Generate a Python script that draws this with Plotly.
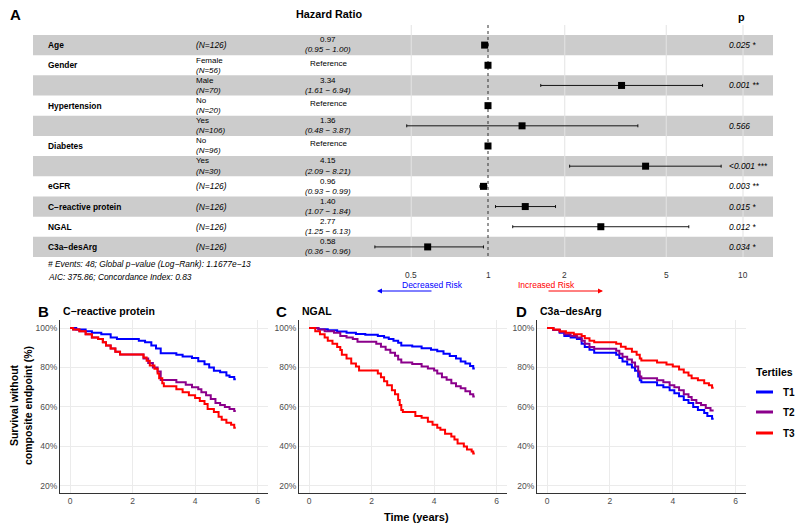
import math
import plotly.graph_objects as go

# ---------------- data: forest plot ----------------
var_labels = ["Age", "Gender", "", "Hypertension", "", "Diabetes", "", "eGFR",
              "C−reactive protein", "NGAL", "C3a−desArg"]
levels = ["", "Female", "Male", "No", "Yes", "No", "Yes", "", "", "", ""]
n_obs = [126, 56, 70, 20, 106, 96, 30, 126, 126, 126, 126]
hr = [0.97, 1.00, 3.34, 1.00, 1.36, 1.00, 4.15, 0.96, 1.40, 2.77, 0.58]
ci_lo = [0.95, None, 1.61, None, 0.48, None, 2.09, 0.93, 1.07, 1.25, 0.36]
ci_hi = [1.00, None, 6.94, None, 3.87, None, 8.21, 0.99, 1.84, 6.13, 0.96]
p_text = ["0.025 *", "", "0.001 **", "", "0.566", "", "<0.001 ***", "0.003 **",
          "0.015 *", "0.012 *", "0.034 *"]
hr_ticks = [0.5, 1, 2, 5, 10]
footnote = ["# Events: 48; Global p−value (Log−Rank): 1.1677e−13",
            "AIC: 375.86; Concordance Index: 0.83"]

# ---------------- data: Kaplan-Meier curves ----------------
crp_t1_t = [0, 0.2, 0.5, 0.7, 1.0, 1.3, 1.5, 2.2, 2.4, 2.6, 2.75, 2.9, 3.4, 3.6, 3.9, 4.1, 4.3, 4.45, 4.6, 4.8, 5.0, 5.1, 5.25, 5.3]
crp_t1_s = [100, 99.2, 98.4, 97.6, 96.8, 95.2, 94.4, 93.6, 92.8, 91.2, 89.6, 87.2, 86.4, 85.6, 84.8, 83.2, 81.6, 80.0, 78.4, 77.6, 76.0, 75.2, 74.0, 74.0]
crp_t2_t = [0, 0.1, 0.3, 0.5, 0.7, 0.9, 1.05, 1.15, 1.3, 1.45, 1.6, 2.35, 2.5, 2.65, 2.8, 2.9, 3.4, 3.7, 3.9, 4.1, 4.2, 4.35, 4.5, 4.65, 4.8, 4.95, 5.1, 5.25, 5.3]
crp_t2_s = [100, 99.2, 98.4, 96.8, 95.2, 94.4, 92.8, 91.2, 89.6, 88.0, 86.6, 84.5, 82.3, 80.0, 78.0, 73.7, 72.5, 71.3, 70.0, 69.0, 67.5, 66.0, 64.0, 62.0, 61.0, 60.0, 59.0, 58.0, 58.0]
crp_t3_t = [0, 0.1, 0.3, 0.5, 0.7, 0.9, 1.05, 1.15, 1.3, 1.45, 1.6, 2.35, 2.45, 2.55, 2.7, 2.8, 2.85, 2.95, 3.0, 3.4, 3.6, 3.8, 4.0, 4.15, 4.3, 4.4, 4.6, 4.75, 4.85, 5.0, 5.15, 5.25, 5.3]
crp_t3_s = [100, 99.2, 98.4, 96.8, 95.2, 94.4, 92.8, 91.2, 89.6, 88.0, 86.6, 85.0, 83.4, 81.0, 79.4, 77.0, 74.5, 72.0, 70.5, 69.0, 67.5, 66.0, 64.5, 63.0, 61.5, 59.0, 57.5, 55.0, 53.5, 52.0, 51.0, 49.5, 49.5]

ngal_t1_t = [0, 0.3, 0.6, 0.9, 1.2, 1.5, 1.8, 2.2, 2.4, 2.55, 2.7, 2.85, 2.95, 3.3, 3.6, 3.9, 4.1, 4.3, 4.5, 4.7, 4.85, 5.0, 5.15, 5.25, 5.3]
ngal_t1_s = [100, 99.4, 98.8, 98.2, 97.6, 97.0, 96.6, 96.0, 95.2, 94.4, 93.6, 92.5, 91.2, 90.6, 89.8, 89.0, 88.2, 87.0, 85.8, 84.6, 83.0, 82.0, 80.8, 79.5, 79.5]
ngal_t2_t = [0, 0.3, 0.5, 0.8, 1.0, 1.2, 1.4, 1.55, 2.15, 2.3, 2.45, 2.6, 2.75, 2.85, 2.95, 3.3, 3.6, 3.8, 4.0, 4.1, 4.25, 4.4, 4.55, 4.7, 4.85, 5.0, 5.15, 5.25, 5.3]
ngal_t2_s = [100, 99.2, 98.4, 97.6, 96.0, 95.2, 94.4, 93.0, 92.0, 90.5, 89.0, 87.5, 86.0, 84.0, 82.5, 81.8, 80.5, 79.5, 78.5, 77.0, 75.0, 73.8, 72.0, 70.5, 69.5, 68.0, 66.5, 65.3, 65.3]
ngal_t3_t = [0, 0.2, 0.35, 0.5, 0.6, 0.75, 0.9, 1.0, 1.05, 1.2, 1.35, 1.5, 1.6, 2.2, 2.3, 2.4, 2.5, 2.65, 2.75, 2.85, 2.9, 2.95, 3.0, 3.4, 3.6, 3.8, 3.95, 4.1, 4.2, 4.35, 4.55, 4.65, 4.75, 4.95, 5.05, 5.2, 5.25, 5.3]
ngal_t3_s = [100, 98.4, 96.8, 95.2, 93.6, 92.0, 90.4, 88.8, 86.5, 84.5, 82.0, 80.5, 78.5, 77.0, 75.0, 73.0, 71.0, 68.5, 66.5, 63.5, 61.0, 58.5, 57.5, 55.5, 54.5, 52.5, 51.0, 49.5, 48.5, 46.5, 45.0, 43.5, 41.5, 40.0, 38.5, 37.5, 36.4, 36.4]

c3a_t1_t = [0, 0.2, 0.4, 0.55, 0.75, 0.95, 1.1, 1.2, 1.35, 1.5, 2.2, 2.3, 2.4, 2.55, 2.7, 2.8, 2.9, 2.95, 3.0, 3.5, 3.7, 3.9, 4.05, 4.2, 4.35, 4.5, 4.65, 4.8, 5.0, 5.1, 5.25, 5.3]
c3a_t1_s = [100, 99.0, 97.6, 96.0, 95.2, 94.4, 92.0, 90.4, 89.0, 87.5, 86.4, 84.8, 83.0, 81.5, 80.0, 78.4, 75.5, 73.5, 72.5, 71.0, 70.0, 68.5, 67.0, 65.5, 63.5, 62.0, 60.0, 58.5, 57.0, 55.5, 54.0, 54.0]
c3a_t2_t = [0, 0.2, 0.4, 0.55, 0.75, 0.95, 1.1, 1.2, 1.35, 1.5, 2.2, 2.3, 2.4, 2.55, 2.7, 2.8, 2.9, 2.95, 3.0, 3.5, 3.7, 3.9, 4.05, 4.2, 4.35, 4.5, 4.6, 4.75, 4.9, 5.05, 5.2, 5.3]
c3a_t2_s = [100, 99.0, 98.0, 96.8, 96.0, 95.2, 93.6, 92.0, 90.4, 89.5, 88.5, 87.0, 85.5, 84.0, 82.5, 80.5, 78.0, 75.5, 74.5, 73.5, 72.5, 71.0, 70.0, 68.5, 66.5, 65.0, 63.5, 62.0, 61.0, 59.5, 58.2, 58.2]
c3a_t3_t = [0, 0.2, 0.4, 0.6, 0.85, 1.1, 1.2, 1.35, 1.5, 2.2, 2.35, 2.5, 2.7, 2.85, 2.95, 3.0, 3.5, 3.8, 4.0, 4.2, 4.35, 4.5, 4.6, 4.8, 5.0, 5.15, 5.25, 5.3]
c3a_t3_s = [100, 99.2, 98.4, 97.6, 96.8, 96.0, 94.8, 93.6, 92.8, 92.0, 90.5, 89.5, 88.0, 86.5, 84.5, 83.5, 82.5, 81.5, 80.5, 79.0, 77.5, 76.0, 74.5, 73.5, 72.0, 71.0, 69.7, 69.7]

panel_titles = ["C−reactive protein", "NGAL", "C3a−desArg"]
panel_letters = ["B", "C", "D"]
tertile_names = ["T1", "T2", "T3"]
tertile_colors = ["#0000FF", "#8B008B", "#FF0000"]
km_ticks_x = [0, 2, 4, 6]
km_ticks_y = [20, 40, 60, 80, 100]

W, H = 800, 530
FONT = "Liberation Sans, Arial, sans-serif"


def px(x):
    return x / W


def py(y):
    return 1 - y / H


fig = go.Figure()

# ---------------- forest plot ----------------
n_rows = len(hr)
row_h = (257 - 35) / n_rows
y_top = 10.5 - (257 - 25) / row_h
dec = 255.0
x_lo = math.log10(10) + (33 - 743) / dec
x_hi = math.log10(10) + (773 - 743) / dec

fig.update_layout(
    xaxis=dict(domain=[px(33), px(773)], type="log", range=[x_lo, x_hi],
               showgrid=False, showticklabels=False,
               ticks="", zeroline=False, showline=False, fixedrange=True),
    yaxis=dict(domain=[py(257), py(25)], range=[10.5, y_top], visible=False,
               showgrid=False, zeroline=False, fixedrange=True),
)

shapes = []
# vertical grid lines (below the bands)
for v in hr_ticks:
    if v != 1:
        shapes.append(dict(type="line", xref="x", yref="y", x0=v, x1=v, y0=y_top, y1=10.5,
                           line=dict(color="#E3E3E3", width=1), layer="below"))
for i in range(n_rows):
    if i % 2 == 0:
        shapes.append(dict(type="rect", xref="x domain", yref="y", x0=0, x1=1,
                           y0=i - 0.5, y1=i + 0.5, fillcolor="#CCCCCC",
                           line=dict(width=0), layer="below"))

# reference dotted line at HR = 1
fig.add_trace(go.Scatter(x=[1, 1], y=[y_top, 10.5], mode="lines",
                         line=dict(color="#333333", width=1, dash="dot"),
                         xaxis="x", yaxis="y", showlegend=False, hoverinfo="skip"))

err_plus = [(h - hr[i]) if h is not None else 0 for i, h in enumerate(ci_hi)]
err_minus = [(hr[i] - l) if l is not None else 0 for i, l in enumerate(ci_lo)]
fig.add_trace(go.Scatter(
    x=hr, y=list(range(n_rows)), mode="markers",
    marker=dict(symbol="square", size=7, color="black"),
    error_x=dict(type="data", symmetric=False, array=err_plus, arrayminus=err_minus,
                 color="black", thickness=0.9, width=1.5),
    xaxis="x", yaxis="y", showlegend=False, hoverinfo="skip"))

ann = []
small = 8.4
cell_font = 8.0
up, dn = -0.26, 0.24   # offsets (in rows) for two-line cells


def cell(x, y, text, anchor="left", size=cell_font):
    return dict(x=px(x), y=y, xref="paper", yref="y", xanchor=anchor, yanchor="middle",
                showarrow=False, text=text, font=dict(size=size, color="black", family=FONT))


for i in range(n_rows):
    if var_labels[i]:
        ann.append(dict(x=px(46), y=i, xref="paper", yref="y", xanchor="left",
                        yanchor="middle", showarrow=False,
                        text="<b>%s</b>" % var_labels[i],
                        font=dict(size=8.4, color="black", family=FONT)))
    if levels[i]:
        ann.append(cell(194, i + up, levels[i]))
        ann.append(cell(194, i + dn, "<i>(N=%d)</i>" % n_obs[i]))
    else:
        ann.append(cell(194, i, "<i>(N=%d)</i>" % n_obs[i], size=small))
    if ci_lo[i] is None:
        ann.append(cell(328, i - 0.1, "Reference", "center"))
    else:
        ann.append(cell(328, i + up, "%.2f" % hr[i], "center"))
        ann.append(cell(328, i + dn, "<i>(%.2f − %.2f)</i>" % (ci_lo[i], ci_hi[i]), "center"))
    if p_text[i]:
        ann.append(cell(727, i, "<i>%s</i>" % p_text[i], size=small))

for v in hr_ticks:
    ann.append(dict(x=math.log10(v), y=py(275), xref="x", yref="paper",
                    xanchor="center", yanchor="middle", showarrow=False,
                    text=("%g" % v), font=dict(size=small, color="#333333", family=FONT)))

ann += [
    dict(x=px(8), y=py(15), xref="paper", yref="paper", xanchor="left", yanchor="middle",
         showarrow=False, text="<b>A</b>", font=dict(size=15, color="black", family=FONT)),
    dict(x=px(294), y=py(14), xref="paper", yref="paper", xanchor="left", yanchor="middle",
         showarrow=False, text="<b>Hazard Ratio</b>", font=dict(size=10.8, color="black", family=FONT)),
    dict(x=px(741), y=py(17), xref="paper", yref="paper", xanchor="center", yanchor="middle",
         showarrow=False, text="<b>p</b>", font=dict(size=10.8, color="black", family=FONT)),
    dict(x=px(46), y=py(264), xref="paper", yref="paper", xanchor="left", yanchor="middle",
         showarrow=False, text="<i>%s</i>" % footnote[0], font=dict(size=small, color="black", family=FONT)),
    dict(x=px(46), y=py(277), xref="paper", yref="paper", xanchor="left", yanchor="middle",
         showarrow=False, text="<i>%s</i>" % footnote[1], font=dict(size=small, color="black", family=FONT)),
    dict(x=px(432), y=py(285), xref="paper", yref="paper", xanchor="center", yanchor="middle",
         showarrow=False, text="Decreased Risk", font=dict(size=8.5, color="#0000FF", family=FONT)),
    dict(x=px(546), y=py(285), xref="paper", yref="paper", xanchor="center", yanchor="middle",
         showarrow=False, text="Increased Risk", font=dict(size=8.5, color="#FF0000", family=FONT)),
    dict(x=px(377), y=py(291), xref="paper", yref="paper", ax=56, ay=0, axref="pixel", ayref="pixel",
         showarrow=True, arrowhead=2, arrowsize=1, arrowwidth=1, arrowcolor="#0000FF", text=""),
    dict(x=px(603), y=py(291), xref="paper", yref="paper", ax=-56, ay=0, axref="pixel", ayref="pixel",
         showarrow=True, arrowhead=2, arrowsize=1, arrowwidth=1, arrowcolor="#FF0000", text=""),
]

# ---------------- Kaplan-Meier panels ----------------
km_data = [
    [(crp_t1_t, crp_t1_s), (crp_t2_t, crp_t2_s), (crp_t3_t, crp_t3_s)],
    [(ngal_t1_t, ngal_t1_s), (ngal_t2_t, ngal_t2_s), (ngal_t3_t, ngal_t3_s)],
    [(c3a_t1_t, c3a_t1_s), (c3a_t2_t, c3a_t2_s), (c3a_t3_t, c3a_t3_s)],
]
panel_left = [60, 299, 537]
panel_right = [268, 507, 746]
letter_x = [36, 274, 514]
x_range = [-0.32, 6.33]
y_range = [16.45, 104.05]

for k in range(3):
    xa = "x%d" % (k + 2)
    ya = "y%d" % (k + 2)
    fig.update_layout(**{
        "xaxis%d" % (k + 2): dict(domain=[px(panel_left[k]), px(panel_right[k])], range=x_range,
                                  anchor=ya, showgrid=True, gridcolor="#EBEBEB", gridwidth=1,
                                  tickvals=km_ticks_x, ticks="", zeroline=False, showline=True,
                                  linecolor="#333333", linewidth=1, fixedrange=True,
                                  tickfont=dict(size=8.5, color="#4D4D4D", family=FONT)),
        "yaxis%d" % (k + 2): dict(domain=[py(493), py(320)], range=y_range, anchor=xa,
                                  showgrid=True, gridcolor="#EBEBEB", gridwidth=1,
                                  tickvals=km_ticks_y, ticktext=["%d%%" % v for v in km_ticks_y],
                                  ticks="", zeroline=False, showline=True, linecolor="#333333",
                                  linewidth=1, fixedrange=True,
                                  tickfont=dict(size=8.5, color="#4D4D4D", family=FONT)),
    })
    for j, (tt, ss) in enumerate(km_data[k]):
        fig.add_trace(go.Scatter(x=tt, y=ss, mode="lines", line=dict(color=tertile_colors[j], width=2,
                                 shape="hv"), xaxis=xa, yaxis=ya, showlegend=False, hoverinfo="skip"))
    ann.append(dict(x=px(letter_x[k]), y=py(311), xref="paper", yref="paper", xanchor="left",
                    yanchor="middle", showarrow=False, text="<b>%s</b>" % panel_letters[k],
                    font=dict(size=15, color="black", family=FONT)))
    ann.append(dict(x=px(panel_left[k] + 1), y=py(311), xref="paper", yref="paper", xanchor="left",
                    yanchor="middle", showarrow=False, text="<b>%s</b>" % panel_titles[k],
                    font=dict(size=10.5, color="black", family=FONT)))

ann.append(dict(x=px(21), y=py(406), xref="paper", yref="paper", xanchor="center", yanchor="middle",
                showarrow=False, textangle=-90, text="<b>Survival without<br>composite endpoint (%)</b>",
                font=dict(size=10.5, color="black", family=FONT)))
ann.append(dict(x=px(416), y=py(517), xref="paper", yref="paper", xanchor="center", yanchor="middle",
                showarrow=False, text="<b>Time (years)</b>", font=dict(size=11, color="black", family=FONT)))

# legend (manual)
ann.append(dict(x=px(754), y=py(372), xref="paper", yref="paper", xanchor="left", yanchor="middle",
                showarrow=False, text="<b>Tertiles</b>", font=dict(size=10.5, color="black", family=FONT)))
leg_y = [392, 412, 433]
for j in range(3):
    shapes.append(dict(type="line", xref="paper", yref="paper", x0=px(756), x1=px(773),
                       y0=py(leg_y[j]), y1=py(leg_y[j]), line=dict(color=tertile_colors[j], width=3)))
    ann.append(dict(x=px(781), y=py(leg_y[j]), xref="paper", yref="paper", xanchor="left",
                    yanchor="middle", showarrow=False, text="<b>%s</b>" % tertile_names[j],
                    font=dict(size=10, color="black", family=FONT)))

fig.update_layout(width=W, height=H, margin=dict(l=0, r=0, t=0, b=0),
                  paper_bgcolor="white", plot_bgcolor="white",
                  shapes=shapes, annotations=ann, showlegend=False,
                  font=dict(family=FONT))

fig.write_html("out.html", config={"displayModeBar": False},
               post_script="document.body.style.margin='0px';document.body.style.overflow='hidden';")
